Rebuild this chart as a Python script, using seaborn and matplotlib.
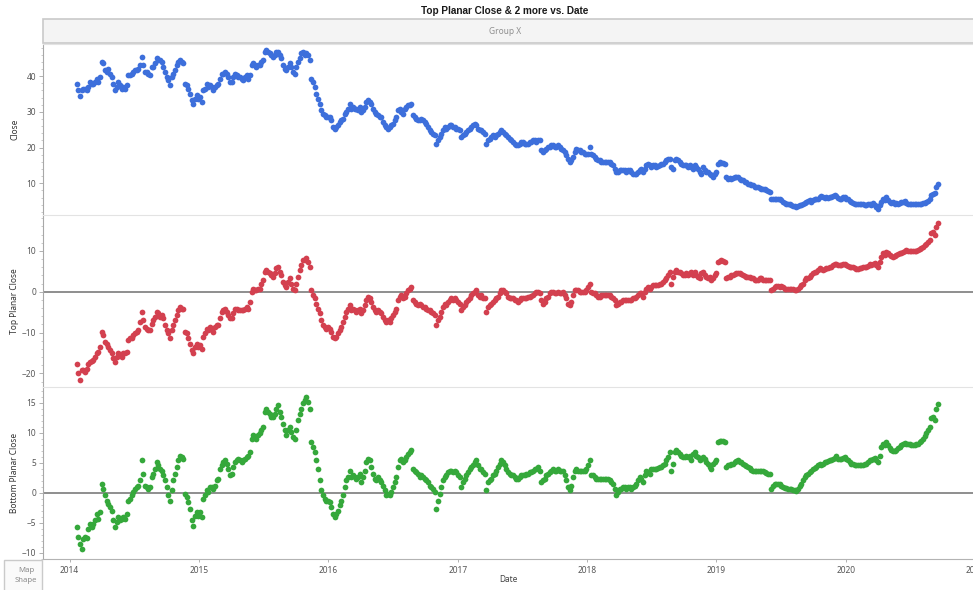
import numpy as np
import pandas as pd
import matplotlib
matplotlib.use("Agg")
import matplotlib.pyplot as plt
import matplotlib.dates as mdates
from matplotlib.patches import Rectangle
from matplotlib.ticker import MultipleLocator
import seaborn as sns

# ---------------------------------------------------------------------------
# Data: closing price and the two planar residual series, sampled evenly
# between the first and last trading dates.
# ---------------------------------------------------------------------------
start_date = "2014-01-21"
end_date = "2020-09-17"

close = [
    37.9, 36.1, 34.4, 36.1, 36.5, 36.3, 36.1, 37.0, 38.4, 37.9,
    37.9, 38.4, 39.3, 38.4, 39.8, 44.0, 43.6, 41.7, 41.2, 42.1,
    40.7, 39.8, 37.9, 36.1, 37.0, 38.4, 37.5, 36.5, 37.0, 36.5,
    37.5, 40.3, 40.3, 40.7, 41.2, 41.7, 41.7, 42.1, 43.1, 45.4,
    43.1, 41.2, 41.2, 40.7, 40.3, 42.6, 42.6, 43.6, 45.0, 44.5,
    44.5, 44.0, 42.6, 41.2, 39.8, 38.9, 37.5, 39.8, 40.7, 41.7,
    43.1, 44.0, 44.5, 44.0, 43.6, 37.9, 37.5, 36.5, 35.1, 33.3,
    32.3, 33.7, 34.7, 33.7, 34.2, 32.8, 36.1, 36.5, 37.9, 37.0,
    37.5, 37.0, 36.1, 37.0, 37.5, 37.9, 39.3, 40.7, 40.7, 41.2,
    40.7, 39.8, 38.4, 38.4, 39.8, 40.7, 40.3, 39.8, 39.8, 39.3,
    38.9, 39.8, 40.3, 39.3, 40.3, 43.1, 43.6, 43.1, 42.6, 43.1,
    43.1, 44.0, 44.5, 46.8, 47.3, 46.8, 46.4, 45.9, 45.4, 45.9,
    46.8, 46.8, 45.9, 45.0, 43.1, 42.1, 41.7, 42.6, 43.6, 42.6,
    41.2, 40.7, 42.6, 44.0, 45.0, 46.4, 46.8, 45.9, 46.4, 45.9,
    44.5, 39.3, 38.4, 37.0, 35.1, 33.7, 32.3, 30.5, 29.5, 29.1,
    28.6, 28.6,
    28.6, 27.7, 25.8, 25.3, 25.8, 26.3, 27.2, 27.7, 28.1, 29.5,
    30.0, 30.9, 32.3, 30.9, 31.4, 30.9, 30.9, 30.5, 31.4, 30.0,
    30.5, 31.4, 32.8, 33.3, 32.8, 32.3, 30.9, 30.0, 29.5, 29.1,
    28.6, 28.6, 27.2, 26.3, 25.8, 25.3, 25.8, 26.3, 26.7, 27.7,
    28.6, 30.5, 30.9, 30.0, 29.5, 30.9, 31.4, 31.9, 31.9, 32.3,
    29.1, 28.6, 28.1, 27.7, 27.7, 28.1, 27.7, 27.2, 26.7, 25.8,
    24.9, 24.4, 23.9, 23.5, 21.1, 22.1, 23.0, 23.9, 24.9, 25.8,
    25.3, 25.8, 26.3, 26.3, 25.8, 25.8, 25.3, 25.3, 24.9, 23.0,
    23.5, 23.9, 24.4, 24.9, 25.3, 25.8, 26.3, 26.7, 26.3, 25.3,
    24.9, 24.9, 24.4, 23.9, 21.1, 22.1, 22.5, 23.0, 23.5, 23.0,
    23.5, 23.9, 24.4, 24.9, 24.4, 23.9, 23.5, 23.0, 22.5, 22.1,
    21.6, 21.1, 20.7, 20.7, 21.1, 21.6, 21.6, 21.1, 21.1, 21.1,
    21.6, 21.6, 22.1, 22.1, 21.6, 22.1, 22.1, 19.3, 18.8, 19.3,
    19.7, 20.2, 20.2, 20.7, 20.7, 20.2, 20.2, 20.7, 20.2, 19.7,
    19.3, 18.8, 17.9, 16.9, 16.0, 16.5, 17.4, 18.8, 19.7, 19.3,
    19.3, 18.8, 18.8, 18.3, 18.3, 18.3, 20.2, 18.3, 17.9, 17.4,
    16.9, 16.5, 16.5, 16.0, 16.0, 16.0, 16.0, 16.0, 16.0, 15.5,
    15.1, 14.1, 13.2, 13.2, 13.7, 13.7, 13.7, 13.7, 13.2, 13.7,
    13.7, 13.2, 12.7, 12.7, 12.7, 13.2, 13.7,
    14.1, 13.2, 14.1, 15.1, 15.5, 15.1, 14.6, 15.1, 15.1, 14.6,
    14.8, 15.1, 15.5, 15.5, 16.0, 16.5, 16.9, 16.9, 14.6, 14.1,
    16.5, 16.9, 16.5, 16.0, 15.5, 15.1, 15.1, 15.1, 14.6, 15.1,
    14.6, 14.1, 15.1, 14.6, 14.1, 13.2, 12.7, 14.6, 13.7, 13.2,
    13.2, 12.7, 12.3, 11.8, 12.7, 13.2, 15.5, 16.0, 15.7, 15.7,
    15.5, 11.8, 11.3, 11.6, 11.3, 11.6, 11.8, 11.8, 11.8, 11.3,
    10.9, 10.9, 10.4, 10.4, 9.9, 9.9, 9.5, 9.5, 9.0, 9.0,
    9.0, 8.7, 8.5, 8.5, 8.3, 8.1, 7.9, 7.6, 5.5, 5.5,
    5.7, 5.7, 5.5, 5.5, 5.3, 4.8, 4.5, 4.3, 4.3, 4.1,
    3.9, 3.7, 3.6, 3.4, 3.7, 3.9, 3.9, 4.1, 4.5, 4.8,
    5.0, 5.3, 4.8, 5.3, 5.5, 5.7, 5.7, 6.2, 6.4, 6.2,
    6.0, 6.2, 6.0, 6.2, 6.2, 6.4, 6.7, 6.4, 6.0, 5.7,
    5.7, 6.2, 6.2, 5.7, 5.5, 5.1, 4.8, 4.5, 4.3, 4.3,
    4.1, 4.3, 4.1, 4.1, 3.9, 3.9, 4.1, 4.3, 3.9, 4.5,
    3.9, 3.4, 2.9, 3.9, 4.8, 5.7, 5.3, 6.2, 5.3, 4.8,
    4.5, 4.8, 4.3, 4.5, 4.3, 4.5, 4.8, 4.8, 5.0, 4.5,
    4.3, 4.3, 4.1, 4.1, 4.1, 4.1, 4.1, 4.3, 4.3, 4.5,
    4.6, 4.8, 5.1, 5.5, 6.7, 7.1, 7.3, 9.0, 9.7,
]

top_planar_close = [
    -17.6, -20.0, -21.6, -19.2, -19.2, -19.6, -19.0, -17.6, -17.1, -16.9,
    -16.6, -15.9, -15.1, -14.7, -13.5, -9.8, -10.6, -12.2, -12.7, -13.5,
    -14.3, -15.1, -16.3, -17.1, -15.9, -15.1, -15.5, -15.9, -15.1, -15.1,
    -14.7, -11.8, -11.4, -11.4, -10.6, -10.2, -9.8, -9.4, -7.3, -4.9,
    -6.9, -8.6, -9.0, -9.4, -9.4, -7.8, -6.9, -6.1, -4.9, -5.3,
    -6.1, -5.7, -6.5, -8.2, -9.4, -10.2, -11.4, -9.4, -8.2, -6.9,
    -5.7, -4.5, -3.7, -4.1, -4.1, -9.8, -10.2, -11.4, -12.7, -14.3,
    -15.1, -13.5, -12.7, -13.5, -13.1, -13.9, -11.0, -10.2, -9.0, -9.4,
    -8.6, -9.4, -9.8, -8.6, -8.2, -8.2, -6.5, -4.9, -4.5, -4.1,
    -4.9, -5.7, -6.5, -6.5, -5.3, -4.1, -4.1, -4.5, -4.5, -4.5,
    -4.5, -4.1, -3.7, -4.1, -2.4, 0.0, 0.8, 0.4, 0.4, 0.8,
    0.8, 2.0, 2.9, 4.9, 5.3, 4.9, 4.5, 4.1, 3.7, 4.5,
    5.7, 6.1, 4.9, 4.1, 2.4, 1.6, 1.2, 2.4, 3.3, 2.0,
    0.8, 0.4, 2.0, 3.7, 5.3, 6.5, 7.8, 7.8, 8.2, 7.3,
    6.1, 0.4, -0.8, -1.6, -2.9, -4.1, -5.3, -6.9, -8.2, -8.6,
    -9.0, -8.6,
    -9.0, -9.8, -11.0, -11.4, -11.0, -10.2, -9.4, -8.6, -7.3, -6.1,
    -4.9, -4.1, -3.3, -4.5, -4.1, -4.5, -4.9, -4.5, -4.1, -5.3,
    -4.5, -3.3, -2.0, -1.2, -1.6, -2.4, -3.7, -4.5, -4.9, -4.5,
    -4.9, -5.3, -6.1, -6.9, -7.3, -6.9, -7.3, -6.5, -5.7, -4.9,
    -4.1, -2.0, -1.2, -0.8, -1.6, -1.2, -0.4, 0.4, 0.8, 1.2,
    -2.0, -2.4, -2.9, -3.3, -2.9, -3.3, -3.7, -3.7, -4.1, -4.5,
    -4.5, -4.9, -5.3, -5.7, -8.2, -6.9, -6.1, -4.9, -3.7, -2.9,
    -3.3, -2.4, -2.0, -1.6, -2.0, -1.6, -2.0, -2.4, -2.9, -4.5,
    -3.7, -3.3, -2.4, -2.0, -1.6, -0.8, -0.4, 0.0, 0.4, -0.8,
    -1.2, -0.8, -1.6, -1.6, -4.9, -3.7, -3.3, -2.9, -2.4, -2.0,
    -1.6, -1.2, -0.4, 0.4, 0.4, 0.0, -0.4, -1.2, -1.6, -1.6,
    -1.6, -2.0, -2.0, -2.4, -2.0, -1.6, -1.6, -1.6, -1.6, -1.2,
    -1.2, -1.1, -0.8, -0.4, 0.0, 0.0, -0.4, -2.0, -2.9, -2.4,
    -1.6, -1.2, -0.4, 0.0, 0.0, -0.4, -0.4, 0.0, -0.4, -0.4,
    0.0, -0.8, -1.6, -2.9, -3.3, -2.4, -0.8, 0.4, 0.4, 0.4,
    0.0, 0.0, 0.0, 0.0, 0.4, 1.2, 2.0, 0.0, -0.4, -0.4,
    -0.8, -1.2, -1.2, -0.8, -0.8, -0.8, -0.8, -0.8, -0.8, -1.2,
    -1.6, -2.0, -3.3, -2.9, -2.4, -2.4, -2.0, -2.0, -2.0, -2.0,
    -2.0, -1.9, -1.6, -1.6, -1.2, -0.8, -0.4,
    -0.4, -1.4, 0.0, 0.8, 1.2, 0.8, 1.2, 1.6, 1.6, 1.6,
    1.6, 1.9, 2.0, 2.4, 2.9, 3.3, 4.1, 4.9, 2.0, 3.7,
    4.9, 5.3, 4.9, 4.9, 4.5, 4.1, 4.1, 4.5, 4.1, 4.5,
    4.9, 4.1, 4.9, 4.1, 3.7, 3.3, 4.5, 4.9, 4.1, 3.7,
    3.3, 3.7, 2.9, 3.3, 4.1, 4.5, 7.3, 7.6, 7.8, 7.6,
    7.3, 3.3, 3.7, 3.7, 4.1, 4.1, 4.3, 4.5, 4.7, 4.5,
    4.3, 4.1, 3.8, 3.7, 3.7, 3.7, 3.3, 3.3, 2.9, 2.9,
    3.0, 3.3, 3.3, 3.0, 2.9, 3.0, 2.9, 2.9, 0.4, 0.8,
    1.2, 1.4, 1.4, 1.2, 1.4, 1.2, 0.8, 0.8, 0.6, 0.6,
    0.6, 0.6, 0.4, 0.4, 0.8, 1.2, 1.6, 2.0, 2.9, 3.3,
    3.3, 3.7, 4.1, 4.5, 4.9, 4.9, 5.3, 5.7, 5.5, 5.3,
    5.5, 5.7, 5.7, 6.0, 6.1, 6.5, 6.8, 6.9, 6.5, 6.5,
    6.5, 6.8, 6.9, 6.5, 6.3, 6.1, 6.0, 6.0, 5.7, 5.5,
    5.5, 5.7, 5.7, 6.0, 6.1, 6.0, 6.3, 6.8, 6.5, 6.9,
    7.1, 6.5, 6.1, 7.3, 8.6, 9.4, 9.0, 9.8, 9.4, 9.0,
    8.7, 8.6, 8.7, 9.0, 9.2, 9.4, 9.6, 9.8, 10.0, 10.2,
    10.0, 10.0, 10.0, 10.0, 10.0, 10.0, 10.2, 10.4, 10.6, 11.0,
    11.4, 11.8, 12.2, 12.7, 14.3, 14.7, 13.9, 15.9, 16.9,
]

bottom_planar_close = [
    -5.7, -7.4, -8.5, -9.4, -7.7, -7.4, -7.5, -6.0, -5.2, -5.7,
    -5.2, -4.6, -3.5, -4.3, -3.2, 1.5, 0.7, -0.4, -1.3, -1.8,
    -2.4, -3.0, -4.6, -5.7, -4.9, -4.1, -4.6, -4.3, -4.1, -4.3,
    -3.5, -1.3, -1.0, -0.4, 0.1, 0.7, 0.9, 1.1, 2.1, 5.4,
    3.2, 1.2, 0.9, 0.7, 0.9, 2.6, 3.2, 4.0, 5.1, 4.6,
    4.0, 3.7, 2.9, 2.1, 0.9, -0.4, -1.3, 0.4, 2.1, 3.2,
    4.3, 5.4, 6.2, 6.0, 5.7, -0.2, -0.7, -1.6, -2.7, -4.6,
    -5.5, -3.8, -3.2, -3.8, -3.2, -4.1, -1.0, -0.4, 0.4, 0.1,
    0.9, 0.9, 0.7, 1.2, 2.1, 2.3, 4.0, 4.6, 5.1, 5.4,
    4.8, 4.0, 2.9, 3.2, 4.3, 5.1, 5.4, 5.7, 5.4, 5.1,
    5.4, 5.7, 6.0, 6.2, 6.8, 9.0, 9.6, 9.3, 9.0, 9.6,
    9.9, 10.4, 11.0, 13.5, 14.0, 13.5, 13.2, 12.6, 12.6, 13.2,
    14.0, 14.6, 13.5, 12.6, 11.5, 10.4, 9.6, 10.4, 11.0, 10.1,
    9.3, 9.0, 10.4, 12.1, 13.2, 14.0, 14.9, 15.4, 16.0, 15.2,
    14.0, 8.5, 7.6, 6.8, 5.4, 4.0, 2.1, 0.4, -0.4, -1.0,
    -1.3, -1.3,
    -1.6, -2.4, -3.5, -4.1, -3.5, -3.0, -2.1, -1.3, -0.4, 0.9,
    2.1, 2.6, 3.7, 2.6, 2.9, 2.6, 2.3, 2.6, 3.2, 1.8,
    2.6, 3.7, 5.1, 5.7, 5.4, 4.3, 3.2, 2.3, 2.1, 2.6,
    2.1, 1.8, 1.2, 0.4, -0.4, -0.2, -0.4, 0.1, 0.9, 1.8,
    2.6, 4.3, 5.4, 5.7, 5.1, 5.4, 6.0, 6.5, 6.8, 7.2,
    4.0, 3.7, 3.5, 3.2, 2.6, 2.9, 2.6, 2.3, 2.1, 1.8,
    1.2, 0.9, 0.7, 0.1, -2.7, -1.3, -0.2, 0.9, 2.1, 2.6,
    2.9, 3.5, 3.7, 3.7, 3.5, 3.7, 3.5, 2.9, 2.6, 0.9,
    1.8, 2.3, 2.9, 3.5, 4.0, 4.3, 4.6, 5.1, 5.4, 4.6,
    4.0, 4.0, 3.5, 3.2, 0.4, 1.8, 2.1, 2.3, 2.9, 3.2,
    3.7, 4.3, 4.8, 5.4, 5.1, 4.6, 4.0, 3.5, 3.2, 2.9,
    2.9, 2.6, 2.3, 2.3, 2.6, 2.9, 2.9, 2.9, 3.2, 3.2,
    3.5, 3.5, 3.7, 4.0, 4.0, 4.3, 3.7, 1.8, 2.1, 2.3,
    2.9, 3.2, 3.5, 3.7, 4.0, 3.7, 3.7, 4.0, 3.7, 3.7,
    3.7, 2.9, 2.1, 0.9, 0.4, 1.2, 2.6, 3.7, 4.0, 3.7,
    3.7, 3.7, 3.7, 3.7, 4.0, 4.6, 5.4, 2.9, 2.9, 2.6,
    2.3, 2.3, 2.3, 2.3, 2.3, 2.3, 2.3, 2.3, 2.1, 1.8,
    1.5, 0.7, -0.4, 0.1, 0.7, 0.7, 0.9, 0.9, 0.7, 0.9,
    0.9, 0.7, 0.9, 1.2, 1.5, 2.1, 2.6,
    2.3, 1.8, 2.9, 3.7, 3.5, 3.2, 4.0, 4.0, 4.0, 4.0,
    4.2, 4.3, 4.3, 4.6, 4.8, 5.4, 6.0, 6.8, 3.7, 4.8,
    6.8, 7.1, 6.8, 6.5, 6.2, 6.0, 6.0, 6.2, 6.0, 6.2,
    5.4, 6.5, 6.8, 6.2, 6.0, 5.4, 5.7, 6.0, 5.7, 5.1,
    4.8, 4.3, 4.0, 4.8, 5.1, 5.4, 8.5, 8.7, 8.7, 8.7,
    8.5, 4.3, 4.6, 4.6, 4.8, 4.8, 5.1, 5.3, 5.4, 5.1,
    5.1, 4.8, 4.6, 4.4, 4.3, 4.2, 3.8, 3.7, 3.6, 3.6,
    3.6, 3.7, 3.7, 3.6, 3.5, 3.3, 3.2, 3.1, 0.7, 1.1,
    1.4, 1.5, 1.5, 1.4, 1.2, 0.9, 0.8, 0.8, 0.7, 0.7,
    0.7, 0.5, 0.4, 0.3, 0.7, 1.1, 1.5, 2.1, 2.6, 2.9,
    3.2, 3.5, 3.7, 4.0, 4.2, 4.3, 4.6, 4.8, 4.6, 4.8,
    5.1, 5.1, 5.3, 5.4, 5.5, 5.7, 5.8, 6.1, 5.7, 5.7,
    5.7, 5.8, 6.0, 5.7, 5.4, 5.1, 4.8, 4.8, 4.6, 4.6,
    4.6, 4.6, 4.6, 4.7, 4.8, 4.8, 5.1, 5.4, 5.4, 5.7,
    5.8, 5.4, 5.1, 6.2, 7.6, 8.2, 7.9, 8.5, 7.9, 7.4,
    7.2, 7.0, 7.0, 7.1, 7.4, 7.6, 7.9, 8.2, 8.3, 8.2,
    8.1, 8.1, 8.0, 8.0, 8.0, 8.1, 8.2, 8.5, 8.7, 9.0,
    9.4, 9.9, 10.4, 11.0, 12.4, 12.6, 12.1, 14.0, 14.8,
]

series_names = ["Close", "Top Planar Close", "Bottom Planar Close"]
series_values = [close, top_planar_close, bottom_planar_close]
series_colors = ["#3d6fdb", "#d3404f", "#35a83b"]
y_ticks = [[10, 20, 30, 40], [-20, -10, 0, 10], [-10, -5, 0, 5, 10, 15]]

frames = []
for name, values in zip(series_names, series_values):
    frames.append(pd.DataFrame({
        "Date": pd.date_range(start_date, end_date, periods=len(values)),
        name: values,
    }))

# ---------------------------------------------------------------------------
# Styling
# ---------------------------------------------------------------------------
sns.set_theme(style="white")
plt.rcParams["font.family"] = ["Noto Sans", "DejaVu Sans"]

W, H = 973, 590
fig = plt.figure(figsize=(W / 100, H / 100), dpi=100)


def fx(px):
    return px / W


def fy(py):
    return 1 - py / H


left_px, right_px = 42.5, 980
panel_rows = [(44, 215), (215, 386.5), (386.5, 559)]
y_limits = [(1.1, 49.0), (-23.2, 18.8), (-11.05, 17.7)]
minor_steps = [2, 2, 1]

# x scale: 2014-01-01 sits at px 69.5, one year spans 129.4 px
d0 = mdates.date2num(pd.Timestamp("2014-01-01"))
px_per_day = 129.4 / 365.25
x_lo = d0 - (69.5 - left_px) / px_per_day
x_hi = d0 + (right_px - 69.5) / px_per_day

TICK_FS = 6.0
LABEL_FS = 6.0

for i, (top, bot) in enumerate(panel_rows):
    ax = fig.add_axes([fx(left_px), fy(bot), fx(right_px - left_px),
                       (bot - top) / H])
    name = series_names[i]
    if name != "Close":
        ax.axhline(0, color="#8e8e8e", lw=1.4, zorder=1)
    sns.scatterplot(data=frames[i], x="Date", y=name, ax=ax,
                    color=series_colors[i], s=17, linewidth=0,
                    legend=False, zorder=3)
    ax.set_xlim(x_lo, x_hi)
    ax.set_ylim(*y_limits[i])
    ax.set_yticks(y_ticks[i])
    ax.yaxis.set_minor_locator(MultipleLocator(minor_steps[i]))
    ax.tick_params(axis="y", which="major", direction="out", length=3,
                   width=0.6, color="#a5a5a5", labelsize=TICK_FS,
                   labelcolor="#555555", pad=1.5, left=True)
    ax.tick_params(axis="y", which="minor", direction="out", length=1.6,
                   width=0.5, color="#b5b5b5", left=True)
    ax.set_ylabel(name, fontsize=LABEL_FS, color="#333333")
    ax.yaxis.set_label_coords(-0.025, 0.5)
    ax.set_facecolor("white")
    for side in ["right", "bottom"]:
        ax.spines[side].set_visible(False)
    ax.spines["left"].set_color("#a8a8a8")
    ax.spines["left"].set_linewidth(0.8)
    ax.spines["top"].set_color("#e3e3e3")
    ax.spines["top"].set_linewidth(0.8)
    ax.xaxis.set_major_locator(mdates.YearLocator())
    ax.xaxis.set_major_formatter(mdates.DateFormatter("%Y"))
    if i < 2:
        ax.tick_params(axis="x", which="both", bottom=False,
                       labelbottom=False)
        ax.set_xlabel("")
    else:
        ax.spines["bottom"].set_visible(True)
        ax.spines["bottom"].set_color("#b3b3b3")
        ax.spines["bottom"].set_linewidth(0.8)
        ax.tick_params(axis="x", which="major", direction="out", length=2.5,
                       width=0.6, color="#a5a5a5", labelsize=TICK_FS,
                       labelcolor="#555555", pad=2.2, bottom=True)
        ax.set_xlabel("Date", fontsize=LABEL_FS, color="#444444")
        ax.xaxis.set_label_coords((508 - left_px) / (right_px - left_px),
                                  -0.095)

# Header strip with the group label
fig.patches.append(Rectangle((fx(left_px), fy(42.5)), fx(990 - left_px),
                             23 / H, transform=fig.transFigure,
                             facecolor="#f4f4f4", edgecolor="#c9c9c9",
                             lw=1.2, zorder=0))
fig.text(fx(505), fy(31), "Group X", ha="center", va="center",
         fontsize=6.0, color="#8f8f8f")

# Title
fig.text(fx(505), fy(10.5), "Top Planar Close & 2 more vs. Date",
         ha="center", va="center", fontsize=7.2, fontweight="bold",
         family=["Liberation Sans", "DejaVu Sans"], color="#1a1a1a")

# Map Shape drop zone in the lower-left corner
fig.patches.append(Rectangle((fx(4), fy(595)), fx(38), 35 / H,
                             transform=fig.transFigure, facecolor="#fafafa",
                             edgecolor="#cacaca", lw=1.0, zorder=0))
fig.text(fx(26), fy(570.5), "Map", ha="center", va="center",
         fontsize=5.6, color="#8a8a8a")
fig.text(fx(26), fy(581), "Shape", ha="center", va="center",
         fontsize=5.6, color="#8a8a8a")

fig.savefig("out.png", dpi=100, facecolor="white")
